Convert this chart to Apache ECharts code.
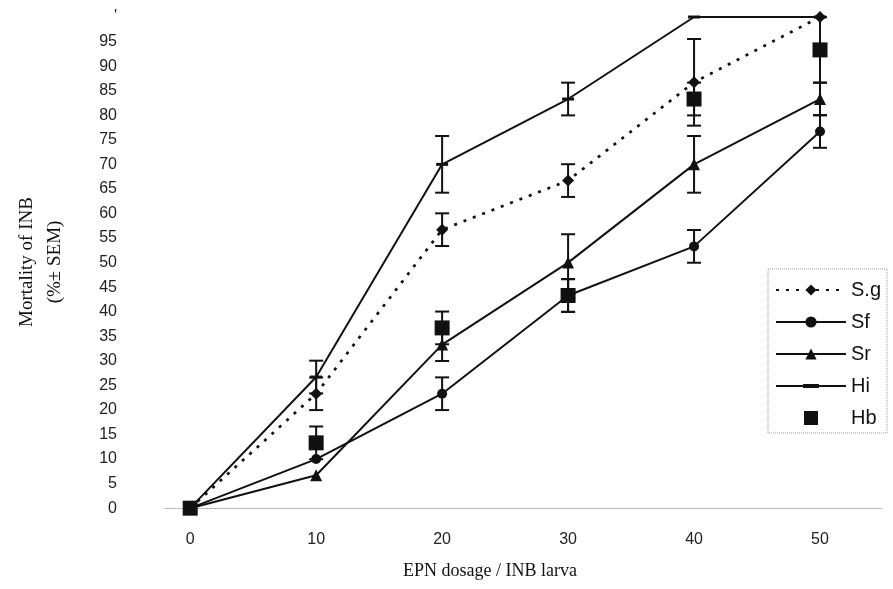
<!DOCTYPE html>
<html>
  <head>
    <title>Mortality of INB</title>
    <meta http-equiv="content-type" content="text/html; charset=UTF-8">
    <script src="https://cdn.jsdelivr.net/npm/echarts@6/dist/echarts.min.js"></script>
    <style>
      html, body { margin: 0; padding: 0; background: #fff; }
      #main { width: 893px; height: 589px; }
    </style>
  </head>
  <body>
    <div id="main"></div>
<script type="text/javascript">
  // EPN dosage per larva
  var doses = [0, 10, 20, 30, 40, 50];
  var yTicks = [0,5,10,15,20,25,30,35,40,45,50,55,60,65,70,75,80,85,90,95,100];

  // mortality (%) and SEM
  var sg    = [0, 23.3, 56.7, 66.7, 86.7, 100];
  var sgErr = [0, 3.33, 3.33, 3.33, 8.82, 0];
  var sf    = [0, 10, 23.3, 43.3, 53.3, 76.7];
  var sfErr = [0, 0, 3.33, 3.33, 3.33, 3.33];
  var sr    = [0, 6.7, 33.3, 50, 70, 83.3];
  var srErr = [0, 0, 3.33, 5.77, 5.77, 3.33];
  var hi    = [0, 26.7, 70, 83.3, 100, 100];
  var hiErr = [0, 3.33, 5.77, 3.33, 0, 0];
  var hb    = [0, 13.3, 36.7, 43.3, 83.3, 93.3];
  var hbErr = [0, 3.33, 3.33, 3.33, 3.33, 6.67];

  var dash = 'path://M0,0H12V3H0Z';
  var square = 'path://M0,0H10V10H0Z';
  var hiIcon = 'path://M0,6H70V8H0Z M27,5H43V9H27Z';

  function pairs(vals) {
    return doses.map(function (d, i) { return [d, vals[i]]; });
  }
  function errRows(vals, errs) {
    var out = [];
    for (var i = 0; i < doses.length; i++) {
      if (errs[i] > 0) out.push([doses[i], vals[i] - errs[i], vals[i] + errs[i]]);
    }
    return out;
  }

  function errorSeries(vals, errs) {
    return {
      type: 'custom',
      silent: true,
      z: 1,
      data: errRows(vals, errs),
      renderItem: function (params, api) {
        var lo = api.coord([api.value(0), api.value(1)]);
        var up = api.coord([api.value(0), api.value(2)]);
        var w = 7;
        var st = { stroke: '#111', lineWidth: 2 };
        return {
          type: 'group',
          children: [
            { type: 'line', shape: { x1: lo[0], y1: lo[1], x2: up[0], y2: up[1] }, style: st },
            { type: 'line', shape: { x1: lo[0] - w, y1: lo[1], x2: lo[0] + w, y2: lo[1] }, style: st },
            { type: 'line', shape: { x1: up[0] - w, y1: up[1], x2: up[0] + w, y2: up[1] }, style: st }
          ]
        };
      }
    };
  }

  var myChart = echarts.init(document.getElementById('main'));

  var option = {
    animation: false,
    backgroundColor: '#fff',
    grid: { left: 165, right: 10, top: 17, bottom: 71 },
    xAxis: {
      type: 'value',
      min: -2,
      max: 55,
      axisLine: { show: true, lineStyle: { color: '#aaa', type: 'dotted', width: 1 } },
      axisTick: { show: false },
      splitLine: { show: false },
      axisLabel: {
        customValues: doses,
        margin: 14,
        color: '#222',
        fontFamily: 'Liberation Sans, Arial',
        fontSize: 16
      }
    },
    yAxis: {
      type: 'value',
      min: -2,
      max: 100,
      axisLine: { show: false },
      axisTick: { show: false },
      splitLine: { show: false },
      axisLabel: {
        customValues: yTicks,
        margin: 48,
        color: '#222',
        fontFamily: 'Liberation Sans, Arial',
        fontSize: 16,
        formatter: function (v) { return v === 100 ? "'" : String(v); }
      }
    },
    legend: {
      orient: 'vertical',
      left: 768,
      top: 269,
      padding: [11, 6, 5, 7],
      itemGap: 12,
      itemWidth: 70,
      itemHeight: 14,
      borderColor: '#999',
      borderWidth: 1,
      borderType: 'dotted',
      textStyle: { color: '#111', fontFamily: 'Liberation Sans, Arial', fontSize: 20, lineHeight: 20, padding: [0, 0, 0, 0] },
      data: ['S.g', 'Sf', 'Sr', { name: 'Hi', icon: hiIcon }, { name: 'Hb', icon: square }]
    },
    graphic: [
      {
        type: 'text',
        x: 41,
        y: 262,
        rotation: Math.PI / 2,
        style: {
          text: 'Mortality of INB\n(%± SEM)',
          align: 'center',
          verticalAlign: 'middle',
          lineHeight: 28,
          fill: '#111',
          font: '19px "Liberation Serif", "Times New Roman", serif'
        }
      },
      {
        type: 'text',
        x: 490,
        y: 571,
        style: {
          text: 'EPN dosage / INB larva',
          align: 'center',
          verticalAlign: 'middle',
          fill: '#111',
          font: '18px "Liberation Serif", "Times New Roman", serif'
        }
      }
    ],
    series: [
      errorSeries(sg, sgErr),
      errorSeries(sf, sfErr),
      errorSeries(sr, srErr),
      errorSeries(hi, hiErr),
      errorSeries(hb, hbErr),
      {
        name: 'S.g', type: 'line', data: pairs(sg), z: 3,
        symbol: 'diamond', symbolSize: 12,
        lineStyle: { color: '#111', width: 2.7, type: [3, 7] },
        itemStyle: { color: '#111' }
      },
      {
        name: 'Sf', type: 'line', data: pairs(sf), z: 3,
        symbol: 'circle', symbolSize: 10,
        lineStyle: { color: '#111', width: 2 },
        itemStyle: { color: '#111' }
      },
      {
        name: 'Sr', type: 'line', data: pairs(sr), z: 3,
        symbol: 'triangle', symbolSize: 12,
        lineStyle: { color: '#111', width: 2 },
        itemStyle: { color: '#111' }
      },
      {
        name: 'Hi', type: 'line', data: pairs(hi), z: 3,
        symbol: dash, symbolSize: 12, symbolKeepAspect: true,
        lineStyle: { color: '#111', width: 2 },
        itemStyle: { color: '#111' }
      },
      {
        name: 'Hb', type: 'scatter', data: pairs(hb), z: 4,
        symbol: 'rect', symbolSize: 15,
        itemStyle: { color: '#111', opacity: 1 }
      }
    ]
  };

  myChart.setOption(option);
</script>
  </body>
</html>
